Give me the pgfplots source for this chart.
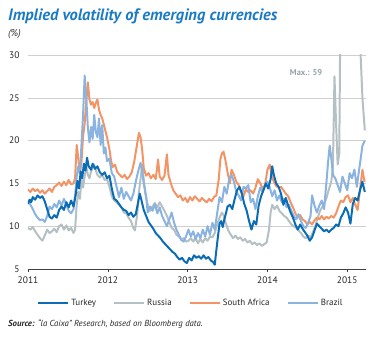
\documentclass[border=0pt]{standalone}
\usepackage{pgfplots}
\pgfplotsset{compat=1.18}
\usepackage{fontspec}
\setmainfont{PT Sans}
\definecolor{cTur}{HTML}{0A6CB4}
\definecolor{cRus}{HTML}{B4C0C4}
\definecolor{cSA}{HTML}{F39466}
\definecolor{cBra}{HTML}{8BB3E0}
\definecolor{cTitle}{HTML}{1A7AC4}
\definecolor{cGrid}{HTML}{CFCFCF}
\begin{document}
\begin{tikzpicture}
\begin{axis}[name=ax,
  scale only axis, width=338bp, height=214bp,
  xmin=2011, xmax=2015.235, ymin=5, ymax=30,
  axis x line*=bottom, axis y line*=left,
  x axis line style={draw=black!75, line width=0.7pt, -},
  y axis line style={draw=none},
  xtick={2011,2012,2013,2014,2015},
  xticklabels={2011,2012,2013,2014,2015},
  xtick style={draw=black!75, line width=0.6pt},
  xtick align=outside, major tick length=3bp,
  ytick={5,10,15,20,25,30},
  ymajorgrids, grid style={cGrid, line width=0.6pt},
  tick label style={font=\fontsize{9.5}{10}\selectfont, text=black!85},
  /pgf/number format/assume math mode=true,
  yticklabel style={anchor=east, xshift=-5bp},
  xticklabel style={yshift=-1bp},
  ytick style={draw=none},
  legend columns=4,
  legend style={at={(axis description cs:0.482,-0.159)}, anchor=center, draw=none, fill=none,
    font=\fontsize{9}{10}\selectfont, text=black!85,
    /tikz/every even column/.append style={column sep=15bp}},
  legend image code/.code={\draw[#1, line width=2.2pt] (0bp,0bp) -- (30bp,0bp);},
  every axis plot/.append style={line width=2pt, line join=round},
]
\addplot[cRus, forget plot] coordinates {
(2011.00,9.8)(2011.03,9.6)(2011.06,9.9)(2011.09,9.4)(2011.12,9.0)(2011.15,8.6)(2011.18,8.3)(2011.21,8.9)(2011.24,9.6)(2011.27,9.2)(2011.30,9.4)(2011.33,9.7)(2011.36,9.3)(2011.39,10.0)(2011.42,10.2)(2011.45,9.6)(2011.48,10.1)(2011.51,9.5)(2011.54,9.8)(2011.57,9.2)(2011.59,9.6)(2011.61,12.5)(2011.63,14.0)(2011.65,13.2)(2011.67,15.5)(2011.69,14.5)(2011.71,15.8)(2011.73,17.0)(2011.75,16.0)(2011.77,15.6)(2011.79,16.4)(2011.81,16.8)(2011.83,17.2)(2011.85,16.5)(2011.87,16.0)(2011.90,15.7)(2011.93,16.0)(2011.96,15.4)(2011.99,15.5)(2012.02,14.6)(2012.05,13.5)(2012.08,13.0)(2012.11,12.8)(2012.14,12.5)(2012.17,12.2)(2012.20,11.6)(2012.23,11.5)(2012.26,11.0)(2012.29,10.6)(2012.32,9.8)(2012.34,9.5)(2012.37,11.5)(2012.39,14.0)(2012.41,15.5)(2012.43,17.2)(2012.45,15.5)(2012.47,13.8)(2012.50,12.5)(2012.53,11.8)(2012.56,12.3)(2012.59,12.7)(2012.62,12.2)(2012.65,12.8)(2012.68,12.3)(2012.71,11.8)(2012.74,11.2)(2012.77,10.5)(2012.80,9.8)(2012.83,9.6)(2012.86,9.0)(2012.89,8.8)(2012.92,8.5)(2012.95,8.6)(2012.98,8.2)(2013.01,8.3)(2013.04,8.6)(2013.07,8.2)(2013.10,8.6)(2013.13,8.0)(2013.16,8.5)(2013.19,8.1)(2013.22,8.6)(2013.25,8.3)(2013.28,8.8)(2013.31,8.7)(2013.34,9.2)(2013.37,10.2)(2013.40,11.0)(2013.43,11.6)(2013.45,11.3)(2013.48,10.3)(2013.51,9.5)(2013.54,9.0)(2013.57,8.6)(2013.60,8.9)(2013.63,8.5)(2013.66,8.7)(2013.69,8.3)(2013.72,8.5)(2013.75,8.1)(2013.78,8.3)(2013.81,7.9)(2013.84,8.1)(2013.87,7.8)(2013.90,8.0)(2013.93,7.7)(2013.96,7.9)(2013.99,8.1)(2014.02,9.6)(2014.04,11.6)(2014.06,12.5)(2014.09,12.0)(2014.12,12.4)(2014.15,11.8)(2014.18,11.5)(2014.21,11.2)(2014.24,11.0)(2014.27,10.6)(2014.30,10.2)(2014.33,10.0)(2014.36,9.8)(2014.39,9.5)(2014.42,9.2)(2014.45,8.8)(2014.48,8.6)(2014.51,8.9)(2014.54,8.7)(2014.57,9.3)(2014.60,10.0)(2014.63,11.0)(2014.66,11.8)(2014.69,12.3)(2014.72,12.8)(2014.74,13.3)(2014.76,14.0)(2014.78,14.6)(2014.80,15.2)(2014.82,16.8)(2014.84,27.5)(2014.86,22.0)(2014.88,17.2)(2014.90,18.5)(2014.915,36)(2014.94,50)(2014.97,59)(2015.00,45)(2015.03,40)(2015.06,48)(2015.09,42)(2015.12,38)(2015.15,33)(2015.17,29.5)(2015.19,25)(2015.21,22.5)(2015.22,21.2)
};
\addplot[cSA, forget plot] coordinates {
(2011.00,14.3)(2011.03,14.0)(2011.06,14.4)(2011.09,14.1)(2011.12,14.3)(2011.15,13.9)(2011.18,14.2)(2011.21,13.8)(2011.24,14.1)(2011.27,14.4)(2011.30,14.0)(2011.33,14.6)(2011.36,14.8)(2011.39,15.1)(2011.42,14.7)(2011.45,15.2)(2011.48,14.8)(2011.51,15.4)(2011.54,14.9)(2011.57,15.0)(2011.59,15.6)(2011.61,19.5)(2011.63,18.0)(2011.65,16.2)(2011.67,17.5)(2011.69,20.5)(2011.71,22.0)(2011.73,24.5)(2011.75,26.8)(2011.77,24.8)(2011.79,24.2)(2011.81,24.5)(2011.83,23.8)(2011.85,24.4)(2011.87,24.8)(2011.89,23.6)(2011.91,23.0)(2011.93,22.6)(2011.96,21.5)(2011.99,20.4)(2012.02,19.0)(2012.04,17.7)(2012.06,16.9)(2012.09,17.2)(2012.12,16.3)(2012.15,16.0)(2012.18,15.7)(2012.21,16.0)(2012.24,15.5)(2012.27,15.8)(2012.30,16.3)(2012.33,17.5)(2012.36,19.2)(2012.39,20.9)(2012.41,20.4)(2012.43,19.0)(2012.45,16.8)(2012.48,15.9)(2012.51,16.2)(2012.54,15.6)(2012.57,16.0)(2012.60,15.5)(2012.63,17.8)(2012.65,15.8)(2012.68,15.4)(2012.71,15.9)(2012.74,18.4)(2012.76,16.0)(2012.79,15.0)(2012.82,14.2)(2012.85,13.8)(2012.88,13.4)(2012.91,13.6)(2012.94,13.0)(2012.97,13.3)(2013.00,12.8)(2013.03,13.4)(2013.06,13.0)(2013.09,13.5)(2013.12,13.2)(2013.15,12.9)(2013.18,13.3)(2013.21,13.0)(2013.24,12.8)(2013.27,13.2)(2013.30,12.9)(2013.33,13.4)(2013.36,13.6)(2013.39,15.5)(2013.41,17.8)(2013.43,18.5)(2013.45,18.7)(2013.47,17.9)(2013.50,16.3)(2013.53,15.0)(2013.55,16.6)(2013.58,16.0)(2013.61,15.2)(2013.64,14.8)(2013.67,14.0)(2013.70,13.5)(2013.73,14.3)(2013.76,14.0)(2013.79,14.2)(2013.82,13.8)(2013.85,14.5)(2013.88,15.5)(2013.91,15.0)(2013.94,14.4)(2013.97,14.8)(2014.00,16.6)(2014.03,17.2)(2014.05,16.0)(2014.08,15.2)(2014.11,14.7)(2014.14,14.5)(2014.17,14.6)(2014.20,14.2)(2014.23,13.8)(2014.26,13.5)(2014.29,12.8)(2014.32,12.2)(2014.35,11.5)(2014.38,11.0)(2014.41,11.3)(2014.44,10.8)(2014.47,10.6)(2014.50,10.2)(2014.53,10.5)(2014.56,10.2)(2014.59,10.7)(2014.62,11.0)(2014.65,10.8)(2014.68,11.2)(2014.71,10.8)(2014.74,11.1)(2014.77,10.9)(2014.80,11.2)(2014.83,11.0)(2014.86,11.5)(2014.89,12.3)(2014.92,13.0)(2014.95,12.8)(2014.98,13.4)(2015.01,13.6)(2015.04,12.8)(2015.07,13.3)(2015.10,12.5)(2015.13,11.9)(2015.15,13.5)(2015.17,15.0)(2015.19,16.6)(2015.21,15.5)(2015.22,15.2)
};
\addplot[cBra, forget plot] coordinates {
(2011.00,12.9)(2011.03,12.5)(2011.06,12.0)(2011.09,11.4)(2011.12,11.0)(2011.15,10.7)(2011.18,10.8)(2011.21,10.5)(2011.24,11.2)(2011.27,12.3)(2011.30,12.0)(2011.33,12.6)(2011.36,12.2)(2011.39,13.0)(2011.42,12.4)(2011.45,13.2)(2011.48,12.5)(2011.51,11.8)(2011.54,11.5)(2011.57,12.0)(2011.59,13.5)(2011.61,15.8)(2011.63,17.0)(2011.65,16.2)(2011.67,19.5)(2011.69,23.0)(2011.71,27.6)(2011.73,25.0)(2011.75,21.5)(2011.77,19.8)(2011.79,21.6)(2011.81,20.2)(2011.83,23.0)(2011.85,21.0)(2011.87,20.4)(2011.89,22.6)(2011.91,19.5)(2011.93,21.8)(2011.95,18.5)(2011.97,19.2)(2011.99,17.6)(2012.02,17.9)(2012.05,16.2)(2012.08,15.8)(2012.11,14.6)(2012.14,13.4)(2012.17,14.5)(2012.20,13.2)(2012.23,14.0)(2012.26,13.5)(2012.29,13.0)(2012.32,13.8)(2012.35,15.2)(2012.38,16.4)(2012.41,17.4)(2012.43,16.5)(2012.45,15.0)(2012.48,13.5)(2012.50,11.6)(2012.53,12.3)(2012.56,11.8)(2012.59,12.6)(2012.62,11.5)(2012.65,12.2)(2012.68,11.2)(2012.71,10.6)(2012.74,10.0)(2012.77,10.8)(2012.80,11.6)(2012.83,10.4)(2012.86,9.6)(2012.89,9.0)(2012.92,8.4)(2012.95,8.2)(2012.98,8.8)(2013.01,9.6)(2013.04,8.8)(2013.07,9.4)(2013.10,8.5)(2013.13,9.2)(2013.16,8.6)(2013.19,9.6)(2013.22,8.8)(2013.25,10.0)(2013.28,9.0)(2013.31,10.4)(2013.34,9.6)(2013.37,11.5)(2013.40,13.4)(2013.43,12.8)(2013.46,14.6)(2013.49,13.8)(2013.52,15.5)(2013.55,16.0)(2013.58,15.2)(2013.61,14.0)(2013.64,13.6)(2013.67,13.0)(2013.70,14.6)(2013.73,14.4)(2013.76,14.8)(2013.79,12.8)(2013.82,13.2)(2013.85,12.0)(2013.88,13.5)(2013.91,14.5)(2013.94,14.0)(2013.97,14.8)(2014.00,15.2)(2014.03,14.5)(2014.06,13.5)(2014.09,14.2)(2014.12,13.0)(2014.15,13.6)(2014.18,12.8)(2014.21,13.2)(2014.24,12.2)(2014.27,12.5)(2014.30,11.8)(2014.33,11.2)(2014.36,10.8)(2014.39,11.4)(2014.42,10.6)(2014.45,10.0)(2014.48,9.8)(2014.51,10.4)(2014.54,11.2)(2014.56,13.6)(2014.59,12.4)(2014.62,11.6)(2014.65,12.4)(2014.68,13.0)(2014.71,12.0)(2014.74,15.2)(2014.76,17.5)(2014.78,19.4)(2014.80,18.0)(2014.82,16.0)(2014.85,15.6)(2014.88,14.8)(2014.91,14.0)(2014.94,15.8)(2014.97,15.0)(2015.00,14.2)(2015.03,16.2)(2015.06,15.6)(2015.09,16.6)(2015.12,14.6)(2015.14,16.0)(2015.17,18.0)(2015.19,19.4)(2015.21,19.8)(2015.22,20.0)
};
\addplot[cTur, forget plot] coordinates {
(2011.00,12.6)(2011.02,13.1)(2011.04,12.8)(2011.06,13.4)(2011.09,13.1)(2011.12,13.6)(2011.15,13.3)(2011.18,13.5)(2011.21,12.9)(2011.24,12.0)(2011.27,11.1)(2011.30,10.9)(2011.33,11.3)(2011.36,11.0)(2011.39,11.9)(2011.42,12.3)(2011.45,11.9)(2011.48,12.8)(2011.51,12.2)(2011.54,13.0)(2011.57,12.3)(2011.60,13.8)(2011.62,15.3)(2011.64,14.4)(2011.66,16.4)(2011.68,15.6)(2011.70,17.3)(2011.72,16.5)(2011.74,18.0)(2011.76,17.0)(2011.79,16.6)(2011.81,17.3)(2011.84,16.7)(2011.87,17.0)(2011.90,16.3)(2011.93,16.0)(2011.96,16.3)(2011.99,15.6)(2012.02,15.9)(2012.05,14.4)(2012.08,13.2)(2012.11,13.0)(2012.14,12.6)(2012.17,12.2)(2012.20,11.9)(2012.23,11.8)(2012.26,11.3)(2012.29,11.6)(2012.32,11.1)(2012.35,11.4)(2012.38,12.8)(2012.40,13.8)(2012.42,13.1)(2012.45,11.9)(2012.48,11.2)(2012.51,10.5)(2012.54,10.1)(2012.57,9.7)(2012.60,9.2)(2012.63,8.9)(2012.66,8.6)(2012.69,8.2)(2012.72,7.9)(2012.75,7.6)(2012.78,7.3)(2012.81,7.0)(2012.84,6.8)(2012.87,6.4)(2012.90,6.1)(2012.93,6.3)(2012.96,5.9)(2012.99,5.7)(2013.02,6.3)(2013.05,6.0)(2013.08,6.6)(2013.11,6.3)(2013.14,6.5)(2013.17,6.2)(2013.20,6.6)(2013.23,6.2)(2013.26,6.4)(2013.29,6.0)(2013.32,5.8)(2013.34,5.5)(2013.36,7.2)(2013.38,8.8)(2013.40,10.3)(2013.42,10.6)(2013.44,9.9)(2013.46,10.8)(2013.48,11.5)(2013.50,12.3)(2013.53,12.5)(2013.56,12.0)(2013.59,13.2)(2013.62,14.2)(2013.65,14.6)(2013.68,13.8)(2013.71,12.6)(2013.74,11.8)(2013.77,10.6)(2013.80,9.6)(2013.83,10.6)(2013.86,10.2)(2013.89,12.4)(2013.92,13.5)(2013.95,14.2)(2013.98,15.0)(2014.01,14.4)(2014.04,15.5)(2014.06,17.0)(2014.08,16.0)(2014.11,15.0)(2014.14,14.6)(2014.17,13.8)(2014.20,12.5)(2014.23,13.3)(2014.26,12.4)(2014.29,11.6)(2014.32,11.0)(2014.35,10.2)(2014.38,9.6)(2014.41,10.2)(2014.44,9.7)(2014.47,9.3)(2014.50,8.9)(2014.53,8.3)(2014.56,8.7)(2014.59,9.5)(2014.62,10.3)(2014.65,10.0)(2014.68,9.7)(2014.71,9.4)(2014.74,9.6)(2014.77,9.3)(2014.80,9.6)(2014.83,9.8)(2014.86,10.2)(2014.89,10.0)(2014.92,11.0)(2014.95,11.5)(2014.98,12.2)(2015.01,11.6)(2015.04,10.3)(2015.07,12.6)(2015.10,13.3)(2015.13,13.0)(2015.16,14.2)(2015.19,15.2)(2015.22,14.0)
};
\addlegendimage{cTur}\addlegendentry{Turkey}
\addlegendimage{cRus}\addlegendentry{Russia}
\addlegendimage{cSA}\addlegendentry{South Africa}
\addlegendimage{cBra}\addlegendentry{Brazil}
\node[anchor=west, text=cRus!85!black, font=\bfseries\fontsize{8.5}{9}\selectfont, inner sep=0pt] at (axis cs:2014.28,28.0) {Max.: 59};
\end{axis}
\path[use as bounding box] ([xshift=-28bp,yshift=-69bp]ax.south west) rectangle ([xshift=19bp,yshift=55bp]ax.north east);
\node[anchor=base west, text=cTitle, font=\bfseries\itshape\fontsize{16.5}{18}\selectfont, inner sep=0pt] at ([xshift=-20bp,yshift=34bp]ax.north west) {Implied volatility of emerging currencies};
\node[anchor=base west, text=black!80, font=\itshape\fontsize{10}{11}\selectfont, inner sep=0pt] at ([xshift=-20bp,yshift=18bp]ax.north west) {(\%)};
\node[anchor=base west, text=black!85, font=\itshape\fontsize{8.8}{10}\selectfont, inner sep=0pt] at ([xshift=-20bp,yshift=-57bp]ax.south west) {\textbf{Source:} “la Caixa” Research, based on Bloomberg data.};
\end{tikzpicture}
\end{document}
